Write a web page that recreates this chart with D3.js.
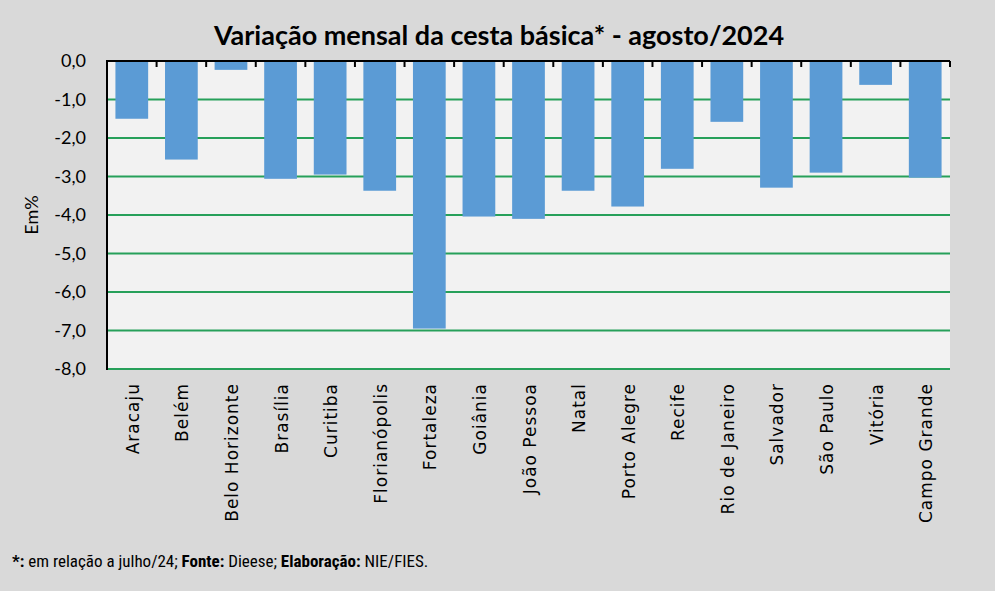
<!DOCTYPE html>
<html>
<head>
<meta charset="utf-8">
<script src="https://cdn.jsdelivr.net/npm/d3@7"></script>
<style>
  body { margin: 0; background: #d9d9d9; }
  svg { display: block; }
</style>
</head>
<body>
<svg id="chart" width="995" height="591"></svg>
<script>
// data
const cities = ["Aracaju", "Belém", "Belo Horizonte", "Brasília", "Curitiba", "Florianópolis",
  "Fortaleza", "Goiânia", "João Pessoa", "Natal", "Porto Alegre", "Recife",
  "Rio de Janeiro", "Salvador", "São Paulo", "Vitória", "Campo Grande"]
const variation = [-1.50, -2.56, -0.23, -3.06, -2.95, -3.37, -6.95, -4.04, -4.10, -3.37,
  -3.78, -2.80, -1.58, -3.29, -2.90, -0.62, -3.03]
const yTicks = [0, -1, -2, -3, -4, -5, -6, -7, -8]

const svg = d3.select("#chart")
const margin = {left: 107, right: 45, top: 61, bottom: 222}
const W = 995, H = 591

svg.append("rect").attr("width", W).attr("height", H).attr("fill", "#d9d9d9")

var x = d3.scaleBand().domain(cities).range([margin.left, W - margin.right]).paddingInner(0.34).paddingOuter(0.17)
var y = d3.scaleLinear().domain([-8, 0]).range([H - margin.bottom, margin.top])

// plot background
svg.append("rect")
  .attr("x", margin.left).attr("y", margin.top)
  .attr("width", W - margin.right - margin.left)
  .attr("height", y(-8) - y(0))
  .attr("fill", "#f2f2f2")

// gridlines
svg.append("g").selectAll("line")
  .data(yTicks.filter(d => d !== 0))
  .enter().append("line")
  .attr("x1", margin.left).attr("x2", W - margin.right)
  .attr("y1", d => y(d)).attr("y2", d => y(d))
  .attr("stroke", "#27a05a").attr("stroke-width", 2)

// bars
svg.append("g").selectAll("rect")
  .data(cities)
  .enter().append("rect")
  .attr("x", d => x(d))
  .attr("width", x.bandwidth())
  .attr("y", y(0))
  .attr("height", (d, i) => y(variation[i]) - y(0))
  .attr("fill", "#5b9bd5")

// top axis (zero line) with ticks between categories
const boundaries = d3.range(1, cities.length + 1).map(i => margin.left + i * (W - margin.right - margin.left) / cities.length)
svg.append("line")
  .attr("x1", margin.left).attr("x2", W - margin.right)
  .attr("y1", y(0)).attr("y2", y(0))
  .attr("stroke", "black").attr("stroke-width", 2)
svg.append("g").selectAll("line")
  .data(boundaries)
  .enter().append("line")
  .attr("x1", d => d).attr("x2", d => d)
  .attr("y1", y(0)).attr("y2", y(0) + 6)
  .attr("stroke", "black").attr("stroke-width", 2)

// left axis
svg.append("line")
  .attr("x1", margin.left).attr("x2", margin.left)
  .attr("y1", y(0) - 1).attr("y2", y(-8) + 1)
  .attr("stroke", "black").attr("stroke-width", 2)

// y tick labels
svg.append("g").selectAll("text")
  .data(yTicks)
  .enter().append("text")
  .attr("x", 86)
  .attr("y", d => y(d) + 6)
  .attr("text-anchor", "end")
  .style("font-family", "Lato, 'Open Sans', sans-serif")
  .style("font-size", "18px")
  .attr("fill", "#000")
  .text(d => d3.format(".1f")(d).replace(".", ",").replace("−", "-"))

// y axis title
svg.append("text")
  .attr("transform", "translate(38," + ((y(0) + y(-8)) / 2) + ") rotate(-90)")
  .attr("text-anchor", "middle")
  .style("font-family", "Lato, 'Open Sans', sans-serif")
  .style("font-size", "18px")
  .text("Em%")

// x labels rotated
svg.append("g").selectAll("text")
  .data(cities)
  .enter().append("text")
  .attr("transform", d => "translate(" + (x(d) + x.bandwidth() / 2 + 7) + "," + (y(-8) + 14) + ") rotate(-90)")
  .attr("text-anchor", "end")
  .style("font-family", "'DejaVu Sans', sans-serif")
  .style("font-size", "17px")
  .style("letter-spacing", "1px")
  .text(d => d)

// title
svg.append("text")
  .attr("x", 499).attr("y", 45)
  .attr("text-anchor", "middle")
  .style("font-family", "Lato, 'Open Sans', sans-serif")
  .style("font-weight", "bold")
  .style("font-size", "27px")
  .text("Variação  mensal da cesta básica* - agosto/2024")

// footnote
const foot = svg.append("text")
  .attr("x", 12).attr("y", 567)
  .style("font-family", "'Liberation Sans Narrow', 'Roboto Condensed', sans-serif")
  .style("font-size", "17px")
foot.append("tspan").style("font-weight", "bold").text("*:")
foot.append("tspan").text(" em relação a julho/24; ")
foot.append("tspan").style("font-weight", "bold").text("Fonte:")
foot.append("tspan").text(" Dieese; ")
foot.append("tspan").style("font-weight", "bold").text("Elaboração:")
foot.append("tspan").text(" NIE/FIES.")
</script>
</body>
</html>
